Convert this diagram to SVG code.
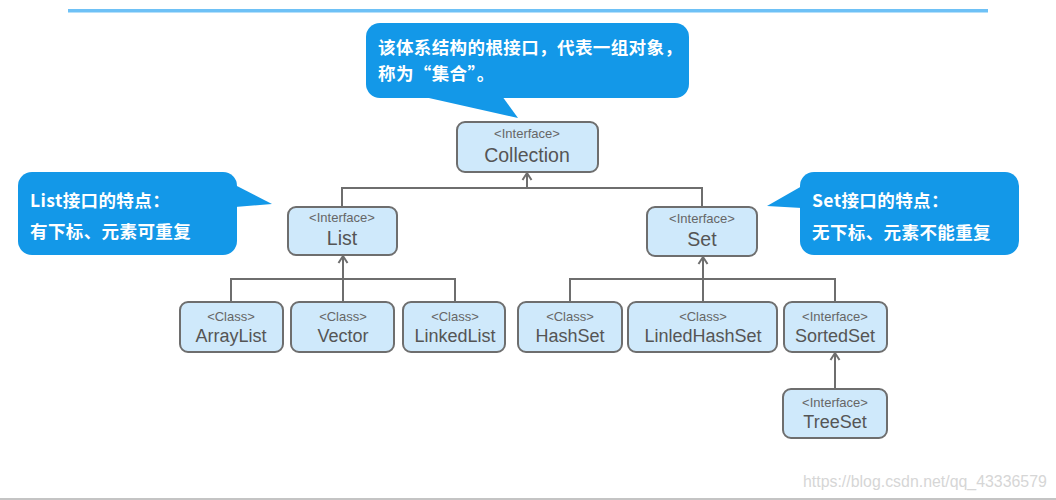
<svg xmlns="http://www.w3.org/2000/svg" width="1056" height="500" viewBox="0 0 1056 500">
<defs>
<style>
.box{fill:#cfe9fb;stroke:#6e6e6e;stroke-width:2}
.st{font-family:"Liberation Sans",Arial,sans-serif;font-size:13px;fill:#666;text-anchor:middle}
.nm{font-family:"Liberation Sans",Arial,sans-serif;font-size:18px;fill:#555;text-anchor:middle}
.nm2{font-family:"Liberation Sans",Arial,sans-serif;font-size:19.5px;fill:#555;text-anchor:middle}
.bub{fill:#1398e8}
.bt{font-family:"Noto Sans CJK SC","Liberation Sans",sans-serif;font-size:17.5px;letter-spacing:0.4px;font-weight:bold;fill:#fff}
.cn{fill:none;stroke:#6e6e6e;stroke-width:2}
</style>
<marker id="arr" viewBox="0 0 12 12" refX="10" refY="6" markerWidth="12" markerHeight="12" markerUnits="userSpaceOnUse" orient="auto">
<path d="M3,1.5 L10,6 L3,10.5" fill="none" stroke="#6e6e6e" stroke-width="2"/>
</marker>
</defs>
<rect width="1056" height="500" fill="#fff"/>
<rect x="68" y="9" width="920" height="3.5" fill="#6ec1f6"/>
<rect x="0" y="498" width="1056" height="2" fill="#c4c4c4"/>
<text x="803" y="487" font-family="Liberation Sans,Arial,sans-serif" font-size="15.9" fill="#d6d6d6">https://blog.csdn.net/qq_43336579</text>

<g id="callout-top">
<rect class="bub" x="366" y="23" width="323" height="75" rx="14"/>
<path class="bub" d="M420,96 L518,118 L502,96 Z"/>
<text class="bt" x="378" y="54">该体系结构的根接口，代表一组对象，</text>
<text class="bt" x="378" y="80">称为“集合”。</text>
</g>
<g id="callout-list">
<rect class="bub" x="18" y="172" width="219" height="83" rx="14"/>
<path class="bub" d="M235,185 L272,204 L235,207 Z"/>
<text class="bt" x="30" y="207">List接口的特点：</text>
<text class="bt" x="30" y="238">有下标、元素可重复</text>
</g>
<g id="callout-set">
<rect class="bub" x="800" y="172" width="219" height="83" rx="14"/>
<path class="bub" d="M802,186 L767,206 L802,208 Z"/>
<text class="bt" x="812" y="207">Set接口的特点：</text>
<text class="bt" x="812" y="239">无下标、元素不能重复</text>
</g>

<g id="connectors">
<path class="cn" d="M342,207 V188 H702 V207"/>
<path class="cn" d="M527,188 V173" marker-end="url(#arr)"/>
<path class="cn" d="M231,302 V279 H455 V302"/>
<path class="cn" d="M343,302 V256" marker-end="url(#arr)"/>
<path class="cn" d="M570,302 V279 H835 V302"/>
<path class="cn" d="M703,302 V257" marker-end="url(#arr)"/>
<path class="cn" d="M835,389 V353" marker-end="url(#arr)"/>
</g>

<g id="Collection">
<rect class="box" x="457" y="122" width="141" height="50" rx="8"/>
<text class="st" x="527" y="138">&lt;Interface&gt;</text>
<text class="nm2" x="527" y="162">Collection</text>
</g>
<g id="List">
<rect class="box" x="288" y="207" width="109" height="48" rx="8"/>
<text class="st" x="342" y="222">&lt;Interface&gt;</text>
<text class="nm2" x="342" y="245">List</text>
</g>
<g id="Set">
<rect class="box" x="647" y="207" width="110" height="49" rx="8"/>
<text class="st" x="702" y="223">&lt;Interface&gt;</text>
<text class="nm2" x="702" y="246">Set</text>
</g>
<g id="ArrayList">
<rect class="box" x="180" y="302" width="103" height="50" rx="8"/>
<text class="st" x="231" y="321">&lt;Class&gt;</text>
<text class="nm" x="231" y="342">ArrayList</text>
</g>
<g id="Vector">
<rect class="box" x="291" y="302" width="103" height="50" rx="8"/>
<text class="st" x="343" y="321">&lt;Class&gt;</text>
<text class="nm" x="343" y="342">Vector</text>
</g>
<g id="LinkedList">
<rect class="box" x="403" y="302" width="102" height="50" rx="8"/>
<text class="st" x="455" y="321">&lt;Class&gt;</text>
<text class="nm" x="455" y="342">LinkedList</text>
</g>
<g id="HashSet">
<rect class="box" x="518" y="302" width="104" height="50" rx="8"/>
<text class="st" x="570" y="321">&lt;Class&gt;</text>
<text class="nm" x="570" y="342">HashSet</text>
</g>
<g id="LinledHashSet">
<rect class="box" x="628" y="302" width="149" height="50" rx="8"/>
<text class="st" x="703" y="321">&lt;Class&gt;</text>
<text class="nm" x="703" y="342">LinledHashSet</text>
</g>
<g id="SortedSet">
<rect class="box" x="784" y="302" width="103" height="50" rx="8"/>
<text class="st" x="835" y="321">&lt;Interface&gt;</text>
<text class="nm" x="835" y="342">SortedSet</text>
</g>
<g id="TreeSet">
<rect class="box" x="783" y="389" width="104" height="49" rx="8"/>
<text class="st" x="835" y="407">&lt;Interface&gt;</text>
<text class="nm" x="835" y="428">TreeSet</text>
</g>
</svg>
